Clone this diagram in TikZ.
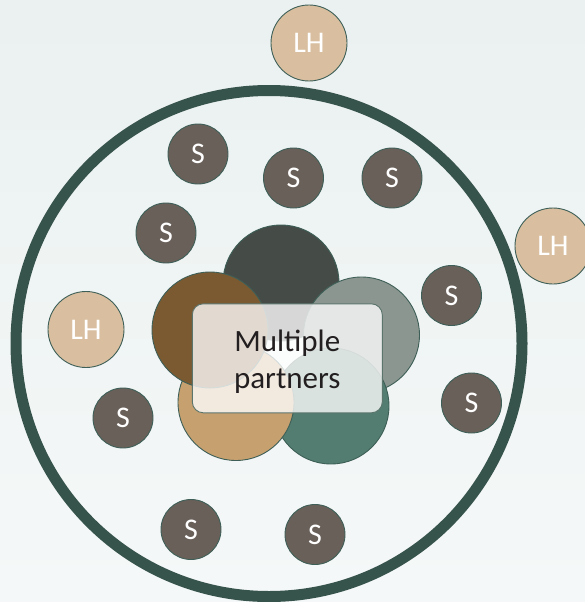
\documentclass[tikz,border=0pt]{standalone}
\usepackage{fontspec}
\setmainfont{Carlito}
\usetikzlibrary{positioning}
\definecolor{bgtop}{HTML}{EAF1F0}
\definecolor{bgbottom}{HTML}{F5F8F8}
\definecolor{ringgreen}{HTML}{37544C}
\definecolor{edgegreen}{HTML}{3E5F57}
\definecolor{stone}{HTML}{6A605A}
\definecolor{sand}{HTML}{D9BFA0}
\definecolor{petaldark}{HTML}{454C47}
\definecolor{petalgray}{HTML}{8B9690}
\definecolor{petalteal}{HTML}{527D70}
\definecolor{petaltan}{HTML}{C6A06F}
\definecolor{petalbrown}{HTML}{7B5A32}
\definecolor{boxedge}{HTML}{5B746C}
\definecolor{inkdark}{HTML}{231F20}

\begin{document}
\begin{tikzpicture}[x=1pt,y=-1pt,
  supplier/.style={circle, draw=edgegreen, line width=0.9pt, fill=stone,
    text=white, minimum size=60pt, inner sep=0pt,
    font=\fontsize{30}{36}\selectfont},
  holder/.style={supplier, fill=sand, minimum size=76pt},
  petal/.style={circle, draw=edgegreen, line width=0.9pt, minimum size=116pt}]
% background
\shade[top color=bgtop, bottom color=bgbottom] (0,0) rectangle (585,602);
\useasboundingbox (0,0) rectangle (585,602);
% the big ring
\node (ring) [circle, draw=ringgreen, line width=11pt, minimum size=506pt] at (269,343.5) {};
% holders
\node (lh1) [holder] at (309,43) {LH};
\node (lh2) [holder] at (553,246) {LH};
\node (lh3) [holder] at (86,329.5) {LH};
% suppliers
\node (s1) [supplier] at (198,154) {S};
\node (s2) [supplier] at (293.5,178) {S};
\node (s3) [supplier] at (392,178) {S};
\node (s4) [supplier] at (166,233) {S};
\node (s5) [supplier] at (451.5,295.5) {S};
\node (s6) [supplier] at (123,418) {S};
\node (s7) [supplier] at (471.5,403) {S};
\node (s8) [supplier] at (191,529.5) {S};
\node (s9) [supplier] at (315,534.5) {S};
% petals of the partner cycle
\node (pdark) [petal, fill=petaldark] at (281,283) {};
\node (pgray) [petal, fill=petalgray] at (361.5,335) {};
\node (pteal) [petal, fill=petalteal] at (331,406) {};
\node (ptan) [petal, fill=petaltan] at (236,402.5) {};
\node (pbrown) [petal, fill=petalbrown] at (210,330) {};
% partners box
\node (partners) [rectangle, rounded corners=11pt, draw=boxedge, line width=0.9pt,
  fill=white, fill opacity=0.78, text opacity=1, text=inkdark,
  minimum width=190pt, minimum height=109pt, align=center,
  text height=62pt, text depth=2pt,
  font=\fontsize{31}{37}\selectfont] at (287.3,358.3) {Multiple\\partners};
\end{tikzpicture}
\end{document}
